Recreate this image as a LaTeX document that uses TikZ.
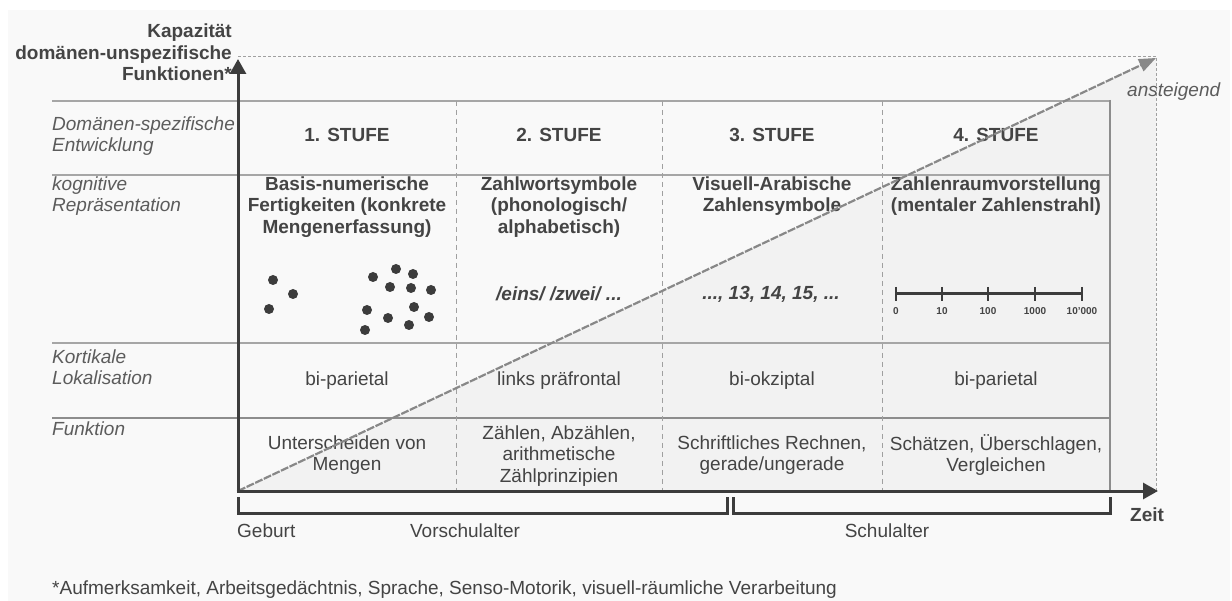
\documentclass[tikz,border=0pt]{standalone}
\usepackage{fontspec}
\setmainfont{Liberation Sans}
\usetikzlibrary{arrows.meta}
\definecolor{bg}{HTML}{F9F9F9}
\definecolor{shadec}{HTML}{F2F2F2}
\definecolor{axisc}{HTML}{3C3C3C}
\definecolor{rulec}{HTML}{A6A6A6}
\definecolor{txt}{HTML}{444444}
\definecolor{lbl}{HTML}{5C5C5C}
\definecolor{diagc}{HTML}{888888}
\definecolor{guidec}{HTML}{A0A0A0}
\tikzset{
  base/.style={inner sep=0pt, text=txt, align=center, font=\fontsize{19}{21.5}\selectfont},
  bold/.style={base, font=\bfseries\fontsize{19}{21.5}\selectfont},
  rowlbl/.style={inner sep=0pt, anchor=west, align=left, text=lbl, font=\itshape\fontsize{19}{21}\selectfont},
  tablerule/.style={draw=rulec, line width=2.4pt},
  divider/.style={draw=guidec, line width=1pt, dash pattern=on 5pt off 4pt},
  guide/.style={draw=guidec, line width=1pt, dash pattern=on 3pt off 2pt},
  axisline/.style={draw=axisc, line width=3pt, -{Triangle[length=15pt,width=16pt]}},
  diagline/.style={draw=diagc, line width=2.2pt, dash pattern=on 8pt off 1.5pt, -{Triangle[length=17pt,width=13pt]}},
  bracket/.style={draw=axisc, line width=3pt, line join=miter},
  dotc/.style={fill=axisc},
  tiny/.style={inner sep=0pt, text=txt, font=\bfseries\fontsize{10}{11}\selectfont},
}
\begin{document}
\begin{tikzpicture}[x=1pt,y=-1pt]
\useasboundingbox (0,0) rectangle (1232,601);
\fill[white] (0,0) rectangle (1232,601);
\fill[bg] (8,10) rectangle (1230,601);
% key points
\coordinate (O) at (238,491);
\coordinate (Ytop) at (238,59);
\coordinate (Xend) at (1158,491);
\coordinate (Dend) at (1156,58);
\coordinate (Dfoot) at (1156,491);
\coordinate (Gtop) at (238,57);
% shaded triangle under the rising line
\fill[fill=shadec] (O) -- (Dend) -- (Dfoot) -- cycle;
% table rules
\draw[tablerule, line width=2.6pt] (52,101) -- (1110,101);
\draw[tablerule] (52,175) -- (1110,175);
\draw[tablerule] (52,343) -- (1110,343);
\draw[tablerule, line width=1.4pt, draw=rulec!85!black] (52,418) -- (1110,418);
\draw[draw=rulec!85!black, line width=1.3pt] (1110,100) -- (1110,491);
\foreach \x in {456,662,882} \draw[divider] (\x,101) -- (\x,491);
% dotted guides
\draw[guide] (Gtop) -- (Dend |- Gtop);
\draw[guide] (Dend) -- (Dfoot);
% row labels
\node[rowlbl] (l1) at (52,136) {Domänen-spezifische\\Entwicklung};
\node[rowlbl] (l2) at (52,196) {kognitive\\Repräsentation};
\node[rowlbl] (l3) at (52,367.5) {Kortikale\\Lokalisation};
\node[rowlbl] (l4) at (52,429) {Funktion};
% headers
\node[bold] (h1) at (347,135) {1. STUFE};
\node[bold] (h2) at (559,135) {2. STUFE};
\node[bold] (h3) at (772,135) {3. STUFE};
\node[bold] (h4) at (996,135) {4. STUFE};
% representations
\node[bold] (r1) at (347,207) {Basis-numerische\\Fertigkeiten (konkrete\\Mengenerfassung)};
\node[bold] (r2) at (559,207) {Zahlwortsymbole\\(phonologisch/\\alphabetisch)};
\node[bold] (r3) at (772,196) {Visuell-Arabische\\Zahlensymbole};
\node[bold] (r4) at (996,196) {Zahlenraumvorstellung\\(mentaler Zahlenstrahl)};
% dots
\foreach \px/\py in {273/280,293/294,269/309,373/277,396/269,413/274,390/287,411/288,431/290,367/310,414/307,429/317,388/318,409/325,365/330}
  \fill[dotc] (\px,\py) circle (5pt);
\node[bold, font=\bfseries\itshape\fontsize{19}{21.5}\selectfont] (e2) at (559,294) {/eins/ /zwei/ ...};
\node[bold, font=\bfseries\itshape\fontsize{19}{21.5}\selectfont] (e3) at (771,294) {..., 13, 14, 15, ...};
% number line
\coordinate (n0) at (896,294);
\coordinate (n4) at (1082,294);
\draw[draw=axisc, line width=3pt] (n0) -- (n4);
\foreach \x/\t [count=\i] in {896/0,942/10,988/100,1035/1000,1082/10'000} {
  \draw[draw=axisc, line width=2.6pt] (\x,287) -- (\x,301);
  \node[tiny] (nl\i) at (\x,311) {\t};
}
% localisation
\node[base] (k1) at (347,381) {bi-parietal};
\node[base] (k2) at (559,381) {links präfrontal};
\node[base] (k3) at (772,381) {bi-okziptal};
\node[base] (k4) at (996,381) {bi-parietal};
% function
\node[base] (f1) at (347,455) {Unterscheiden von\\Mengen};
\node[base] (f2) at (559,456) {Zählen, Abzählen,\\arithmetische\\Zählprinzipien};
\node[base] (f3) at (772,455) {Schriftliches Rechnen,\\gerade/ungerade};
\node[base] (f4) at (996,455) {Schätzen, Überschlagen,\\Vergleichen};
% rising line
\draw[diagline] (O) -- (Dend);
% axes
\draw[axisline] ([yshift=1.5pt]O) -- (Ytop);
\draw[axisline] ([xshift=-1.5pt]O) -- (Xend);
% brackets
\coordinate (b1) at (238,497);
\coordinate (b2) at (727,497);
\coordinate (b3) at (733,497);
\coordinate (b4) at (1110,497);
\coordinate (bb) at (0,513);
\draw[bracket] (b1) -- (b1 |- bb) -- (b2 |- bb) -- (b2);
\draw[bracket] (b3) -- (b3 |- bb) -- (b4 |- bb) -- (b4);
% axis labels
\node[bold, align=right, anchor=east] (ylab) at (232,52.5) {Kapazität\\domänen-unspezifische\\Funktionen*};
\node[bold, anchor=west] (zeit) at (1130,515) {Zeit};
\node[base, anchor=west, text=lbl, font=\itshape\fontsize{19}{21}\selectfont] (anst) at (1127,92) {ansteigend};
\node[base, anchor=west] (geb) at (237,531) {Geburt};
\node[base] (vor) at (465,531) {Vorschulalter};
\node[base] (schul) at (887,531) {Schulalter};
\node[base, anchor=west] (foot) at (52,590) {*Aufmerksamkeit, Arbeitsgedächtnis, Sprache, Senso-Motorik, visuell-räumliche Verarbeitung};
\end{tikzpicture}
\end{document}
